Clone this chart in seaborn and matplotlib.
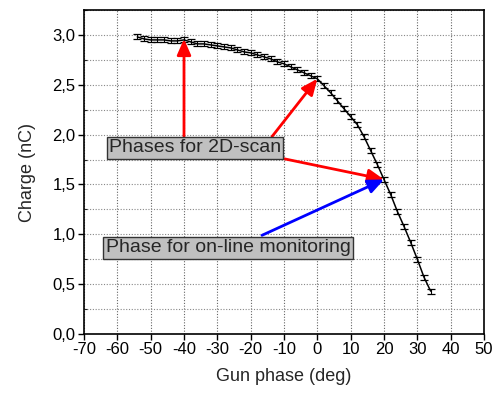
import matplotlib
matplotlib.use("Agg")
import matplotlib.pyplot as plt
from matplotlib.ticker import MultipleLocator, FuncFormatter
import seaborn as sns
import pandas as pd

phase = [-54, -52, -50, -48, -46, -44, -42, -40, -38, -36, -34, -32, -30, -28,
         -26, -24, -22, -20, -18, -16, -14, -12, -10, -8, -6, -4, -2, 0,
         2, 4, 6, 8, 10, 12, 14, 16, 18, 20, 22, 24, 26, 28, 30, 32, 34]
charge = [2.98, 2.96, 2.95, 2.95, 2.95, 2.94, 2.94, 2.95, 2.93, 2.91, 2.91, 2.90, 2.89, 2.88,
          2.87, 2.85, 2.83, 2.82, 2.80, 2.78, 2.76, 2.73, 2.71, 2.68, 2.65, 2.62, 2.59, 2.56,
          2.49, 2.42, 2.34, 2.26, 2.18, 2.10, 1.98, 1.84, 1.70, 1.55, 1.40, 1.23, 1.08, 0.92,
          0.75, 0.57, 0.43]
err = [0.025] * len(phase)

label_scan = "Phases for 2D-scan"
label_monitor = "Phase for on-line monitoring"
scan_targets = [(-40, 2.96), (0, 2.56), (20, 1.55)]
scan_tails = [(-40, 1.98), (-13.6, 1.98), (-10.3, 1.76)]
monitor_target = (20, 1.55)
monitor_tail = (-16.6, 0.99)

df = pd.DataFrame({"phase": phase, "charge": charge})

sns.set_theme(style="ticks")
plt.rcParams['font.family'] = ['Liberation Sans', 'DejaVu Sans']
plt.rcParams['axes.unicode_minus'] = False

fig = plt.figure(figsize=(4.93, 3.94), dpi=100)
ax = fig.add_axes([0.1704, 0.1523, 0.8113, 0.8223])

sns.lineplot(data=df, x="phase", y="charge", color="black", lw=1.1, ax=ax, zorder=3)
ax.errorbar(phase, charge, yerr=err, fmt="none", ecolor="black", elinewidth=0.8,
            capsize=3.2, capthick=0.9, zorder=3)

ax.set_xlim(-70, 50)
ax.set_ylim(0, 3.25)
ax.xaxis.set_major_locator(MultipleLocator(10))
ax.yaxis.set_major_locator(MultipleLocator(0.5))
ax.yaxis.set_minor_locator(MultipleLocator(0.25))
ax.yaxis.set_major_formatter(FuncFormatter(lambda v, p: f"{v:.1f}".replace(".", ",")))
ax.grid(True, which="major", axis="x", color="#666666", ls=(0, (1, 1.5)), lw=0.8)
ax.grid(True, which="both", axis="y", color="#888888", ls=(0, (1, 1.5)), lw=0.8)
ax.tick_params(axis="both", which="major", direction="out", length=4, width=1,
               labelsize=12, colors="black", pad=2)
ax.tick_params(axis="y", which="minor", direction="in", length=2, width=0.8)
for s in ax.spines.values():
    s.set_color("black")
    s.set_linewidth(1.2)

ax.set_xlabel("Gun phase (deg)", fontsize=13, labelpad=8)
ax.set_ylabel("Charge (nC)", fontsize=13, labelpad=12)

bbox = dict(boxstyle="square,pad=0.12", fc="#c0c0c0", ec="#333333", lw=1)
ax.text(-36.7, 1.866, label_scan, fontsize=14, ha="center", va="center",
        bbox=bbox, zorder=5)
ax.text(-26.8, 0.863, label_monitor, fontsize=14, ha="center", va="center",
        bbox=bbox, zorder=5)

for (tx, ty), (sx, sy) in zip(scan_targets, scan_tails):
    ax.annotate("", xy=(tx, ty), xytext=(sx, sy), zorder=4,
                arrowprops=dict(arrowstyle="-|>,head_length=0.8,head_width=0.35",
                                color="red", lw=2, shrinkA=0, shrinkB=0))
ax.annotate("", xy=monitor_target, xytext=monitor_tail, zorder=4,
            arrowprops=dict(arrowstyle="-|>,head_length=0.8,head_width=0.35",
                            color="blue", lw=2, shrinkA=0, shrinkB=0))

fig.savefig("out.png", dpi=100)
